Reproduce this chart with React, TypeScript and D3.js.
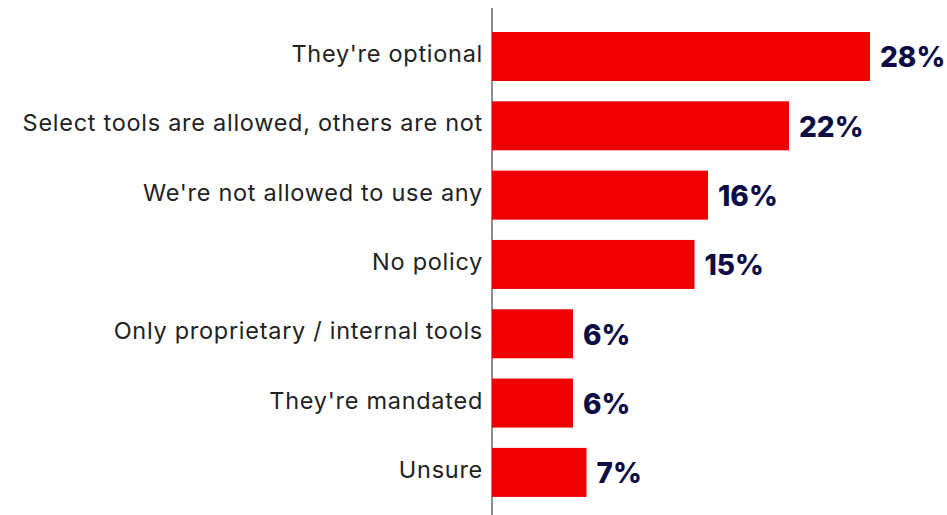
import React from "react";
import * as d3 from "d3";

const categories = [
  "They're optional",
  "Select tools are allowed, others are not",
  "We're not allowed to use any",
  "No policy",
  "Only proprietary / internal tools",
  "They're mandated",
  "Unsure",
];
const values = [28, 22, 16, 15, 6, 6, 7];
const valueLabels = ["28%", "22%", "16%", "15%", "6%", "6%", "7%"];

const W = 947;
const H = 515;
const axisX = 492;

export default function App() {
  const x = d3.scaleLinear().domain([0, 28]).range([axisX, 870]);
  const y = d3
    .scaleBand<string>()
    .domain(categories)
    .range([21.8, 507.1])
    .paddingInner(0.293)
    .paddingOuter(0.147);
  return (
    <svg
      width={W}
      height={H}
      style={{ position: "absolute", left: 0, top: 0 }}
    >
      <line x1={axisX} x2={axisX} y1={8} y2={H} stroke="#444" strokeWidth={1.2} />
      {categories.map((c, i) => {
        const yy = y(c)!;
        const bh = y.bandwidth();
        return (
          <g key={c}>
            <rect x={x(0)} y={yy} width={x(values[i]) - x(0)} height={bh} fill="#EE0000" />
            <text
              x={axisX - 9}
              y={yy + bh / 2 - 3}
              textAnchor="end"
              dominantBaseline="central"
              fontFamily="Inter, 'Open Sans', sans-serif"
              fontSize={23.5}
              letterSpacing={0.72}
              fill="#222"
            >
              {c}
            </text>
            <text
              x={x(values[i]) + 10}
              y={yy + bh / 2 + 1}
              dominantBaseline="central"
              fontFamily="Inter, 'Open Sans', sans-serif"
              fontWeight={800}
              fontSize={28}
              fill="#0D0D45"
            >
              {valueLabels[i]}
            </text>
          </g>
        );
      })}
    </svg>
  );
}
